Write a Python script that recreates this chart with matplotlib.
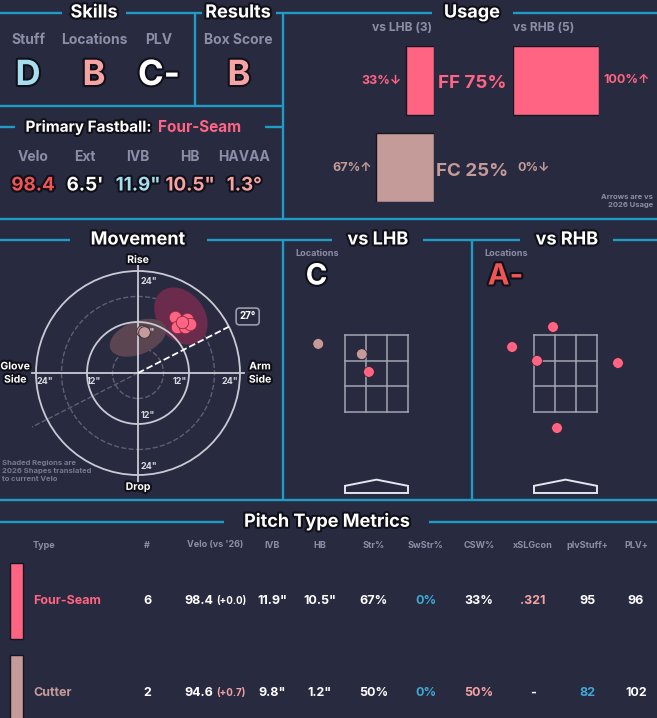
import numpy as np
import matplotlib
matplotlib.use("Agg")
import matplotlib.pyplot as plt
from matplotlib.patches import Circle, Ellipse, Rectangle, Polygon
import matplotlib.patheffects as pe

plt.rcParams['font.family'] = ['Inter', 'DejaVu Sans']

W, H = 657, 718
BG = '#282a40'
LINE = '#1f9cc6'
GRAY = '#8b8ea6'
WHITE = '#ffffff'
FF_COL = '#ff6482'
FC_COL = '#c49b98'
BLUE = '#3fa9d6'
LBLUE = '#a6def0'
PINK = '#f5a3a3'
RED = '#f05555'

# grades
skill_labels = ['Stuff', 'Locations', 'PLV']
skill_grades = ['D', 'B', 'C-']
skill_colors = [LBLUE, PINK, WHITE]
result_label = 'Box Score'
result_grade = 'B'

# primary fastball
fb_name = 'Four-Seam'
fb_labels = ['Velo', 'Ext', 'IVB', 'HB', 'HAVAA']
fb_values = ['98.4', "6.5'", '11.9"', '10.5"', '1.3°']
fb_colors = [RED, WHITE, LBLUE, PINK, PINK]

# usage
pitch_codes = ['FF', 'FC']
pitch_names = ['Four-Seam', 'Cutter']
pitch_colors = [FF_COL, FC_COL]
usage_total = [75, 25]
usage_lhb = [33, 67]
usage_rhb = [100, 0]
arrow_lhb = ['↓', '↑']
arrow_rhb = ['↑', '↓']
n_lhb, n_rhb = 3, 5

# movement (inches)
ff_hb = [8.7, 11.5, 9.2, 11.1, 12.2, 10.4]
ff_ivb = [13.2, 12.7, 10.8, 10.8, 11.5, 12.0]
fc_hb = [1.0, 1.4]
fc_ivb = [9.9, 9.7]
arm_angle = 27

# locations (feet)
lhb_x = [-1.31, -0.33, -0.17]
lhb_y = [3.13, 2.90, 2.50]
lhb_type = ['FC', 'FC', 'FF']
rhb_x = [-0.28, -1.20, -0.64, 1.18, -0.19]
rhb_y = [3.51, 3.06, 2.75, 2.70, 1.24]
rhb_type = ['FF', 'FF', 'FF', 'FF', 'FF']
loc_grades = ['C', 'A-']
loc_grade_colors = [WHITE, RED]

# table
col_names = ['Type', '#', "Velo (vs '26)", 'IVB', 'HB', 'Str%', 'SwStr%', 'CSW%', 'xSLGcon', 'plvStuff+', 'PLV+']
counts = ['6', '2']
velo = ['98.4', '94.6']
velo_diff = ['(+0.0)', '(+0.7)']
velo_diff_col = [WHITE, PINK]
ivb = ['11.9"', '9.8"']
hb = ['10.5"', '1.2"']
strike = ['67%', '50%']
swstr = ['0%', '0%']
swstr_col = [BLUE, BLUE]
csw = ['33%', '50%']
csw_col = [WHITE, PINK]
xslg = ['.321', '-']
xslg_col = [PINK, WHITE]
stuff = ['95', '82']
stuff_col = [WHITE, BLUE]
plv = ['96', '102']
plv_col = [WHITE, WHITE]

fig = plt.figure(figsize=(W / 100, H / 100), dpi=100, facecolor=BG)
ov = fig.add_axes([0, 0, 1, 1])
ov.set_xlim(0, W)
ov.set_ylim(H, 0)
ov.axis('off')

STROKE = [pe.withStroke(linewidth=3, foreground='#101018')]


def px_axes(x0, y0, x1, y1):
    a = fig.add_axes([x0 / W, 1 - y1 / H, (x1 - x0) / W, (y1 - y0) / H])
    a.patch.set_alpha(0)
    a.axis('off')
    return a


def hline(y, segs):
    for x0, x1 in segs:
        ov.plot([x0, x1], [y, y], color=LINE, lw=1.7, solid_capstyle='butt')


def vline(x, y0, y1):
    ov.plot([x, x], [y0, y1], color=LINE, lw=1.7, solid_capstyle='butt')


def title(txt, x, y, size=13):
    ov.text(x, y, txt, color=WHITE, fontsize=size, fontweight='bold',
            ha='center', va='center', path_effects=STROKE)


# frame lines
hline(13, [(0, 62), (126, 202), (276, 432), (513, 657)])
vline(195, 13, 106)
vline(283, 13, 219)
hline(106, [(0, 283)])
hline(127, [(0, 15), (265, 283)])
hline(219, [(0, 657)])
hline(240, [(0, 70), (207, 332), (423, 520), (613, 657)])
vline(283, 240, 500)
vline(472, 240, 500)
hline(500, [(0, 657)])
hline(522, [(0, 224), (429, 657)])

# skills / results
title('Skills', 94, 13)
title('Results', 238, 13)
for i, (lab, g, c) in enumerate(zip(skill_labels, skill_grades, skill_colors)):
    x = [28, 94, 159][i]
    ov.text(x, 40, lab, color=GRAY, fontsize=10, fontweight='bold', ha='center', va='center')
    ov.text(x, 76, g, color=c, fontsize=25, fontweight='bold', ha='center', va='center',
            path_effects=STROKE)
ov.text(238, 40, result_label, color=GRAY, fontsize=10, fontweight='bold', ha='center', va='center')
ov.text(239, 76, result_grade, color=PINK, fontsize=25, fontweight='bold', ha='center',
        va='center', path_effects=STROKE)

# primary fastball
ov.text(152, 127, 'Primary Fastball:', color=WHITE, fontsize=11, fontweight='bold',
        ha='right', va='center', path_effects=STROKE)
ov.text(158, 127, fb_name, color=FF_COL, fontsize=11, fontweight='bold', ha='left', va='center')
for x, lab, v, c in zip([33, 85, 138, 190, 244], fb_labels, fb_values, fb_colors):
    ov.text(x, 157, lab, color=GRAY, fontsize=10, fontweight='bold', ha='center', va='center')
    ov.text(x, 186, v, color=c, fontsize=13.5, fontweight='bold', ha='center', va='center',
            path_effects=STROKE)

# usage
title('Usage', 472, 13)
ov.text(432, 28, f'vs LHB ({n_lhb})', color=GRAY, fontsize=8.7, fontweight='bold', ha='right', va='center')
ov.text(513, 28, f'vs RHB ({n_rhb})', color=GRAY, fontsize=8.7, fontweight='bold', ha='left', va='center')

bar_px = 86  # pixels for 100%
ax_l = px_axes(434 - bar_px, 46, 434, 202)
ax_r = px_axes(513, 46, 513 + bar_px, 202)
rows = np.arange(len(pitch_codes))
for a, vals, arrows, side in [(ax_l, usage_lhb, arrow_lhb, 'l'), (ax_r, usage_rhb, arrow_rhb, 'r')]:
    a.barh(rows, vals, height=0.79, color=pitch_colors, edgecolor='#15151f',
           linewidth=[1 if v > 0 else 0 for v in vals])
    a.set_xlim(0, 100)
    a.set_ylim(1.395, -0.395)
    for r, v, ar in zip(rows, vals, arrows):
        off, ha = (-3, 'right') if side == 'l' else (3, 'left')
        a.annotate(f'{v}%{ar}', (v, r), xytext=(off, 0), textcoords='offset points',
                   ha=ha, va='center', color=pitch_colors[r], fontsize=9,
                   fontweight='bold', family=['Inter', 'DejaVu Sans'], annotation_clip=False)
ax_l.invert_xaxis()
for r, (code, u) in enumerate(zip(pitch_codes, usage_total)):
    ov.text(472, 84 + r * 87, f'{code} {u}%', color=pitch_colors[r], fontsize=13.5,
            fontweight='bold', ha='center', va='center')
ov.text(653, 201, 'Arrows are vs\n2026 Usage', color=GRAY, fontsize=5.5, fontweight='bold',
        ha='right', va='center', linespacing=1.3)

# movement
title('Movement', 138, 240)
scale = 4.25  # px per inch
half = 128 / scale
am = px_axes(138 - 128, 373 - 128, 138 + 128, 373 + 128)
am.set_xlim(-half, half)
am.set_ylim(-half, half)
am.set_aspect('equal')
am.add_patch(Ellipse((10.1, 13.4), 14.8, 11.0, angle=-52, color='#6a2b4c', lw=0, zorder=1))
am.add_patch(Ellipse((0.0, 8.3), 14.0, 7.8, angle=22, color='#5b4551', lw=0, zorder=1))
for rad, ls in [(6, '--'), (18, '--')]:
    am.add_patch(Circle((0, 0), rad, fill=False, ec='#5d6075', lw=1, ls=ls, zorder=0))
for rad in [12, 24]:
    am.add_patch(Circle((0, 0), rad, fill=False, ec='#c9cad4', lw=1.3, zorder=2))
am.plot([-25, 25], [0, 0], color='#c9cad4', lw=1.3, zorder=2)
am.plot([0, 0], [-26, 26], color='#c9cad4', lw=1.3, zorder=2)
for t, x, y in [('24"', 0.6, 21.6), ('12"', 0.6, 9.6), ('12"', 0.6, -9.9), ('24"', 0.6, -21.9)]:
    am.text(x, y, t, color='#d8d9e0', fontsize=6.5, fontweight='bold', ha='left', va='center', zorder=3)
for t, x in [('24"', -21.9), ('12"', -10.4), ('12"', 9.9), ('24"', 21.6)]:
    am.text(x, -1.9, t, color='#d8d9e0', fontsize=6.5, fontweight='bold', ha='center', va='center', zorder=3)
am.text(0, 26.6, 'Rise', color=WHITE, fontsize=7.5, fontweight='bold', ha='center', va='center',
        path_effects=STROKE)
am.text(0, -26.8, 'Drop', color=WHITE, fontsize=7.5, fontweight='bold', ha='center', va='center',
        path_effects=STROKE)
am.text(-28.9, 0, 'Glove\nSide', color=WHITE, fontsize=7.5, fontweight='bold', ha='center', va='center',
        path_effects=STROKE, linespacing=1.4)
am.text(28.7, 0, 'Arm\nSide', color=WHITE, fontsize=7.5, fontweight='bold', ha='center', va='center',
        path_effects=STROKE, linespacing=1.4)
th = np.radians(arm_angle)
am.plot([0, 24 * np.cos(th)], [0, 24 * np.sin(th)], color=WHITE, lw=1.3, ls='--', zorder=4)
am.plot([0, -28 * np.cos(th)], [0, -28 * np.sin(th)], color='#5d6075', lw=1, ls='--', zorder=0)
am.text(25.8, 13.3, f'{arm_angle}°', color=WHITE, fontsize=7, fontweight='bold', ha='center',
        va='center', zorder=5,
        bbox=dict(boxstyle='round,pad=0.35', fc=BG, ec='#9a9cab', lw=1.2))
am.scatter(fc_hb, fc_ivb, s=70, color=FC_COL, ec='#3a2b33', lw=0.6, zorder=6)
am.scatter(ff_hb, ff_ivb, s=80, color=FF_COL, ec='#8a2a45', lw=0.6, zorder=6)
ov.text(2, 471, 'Shaded Regions are\n2026 Shapes translated\nto current Velo', color='#767a90',
        fontsize=5.5, fontweight='bold', ha='left', va='center', linespacing=1.4)

# locations
title('vs LHB', 378, 240)
title('vs RHB', 567, 240)
ft = 44.5  # px per foot
sz_bot, sz_top, half_plate = 1.6, 3.33, 0.708
pt_col = {'FF': FF_COL, 'FC': FC_COL}
for i, (xs, ys, ts, cx, x0, x1) in enumerate([(lhb_x, lhb_y, lhb_type, 376.5, 283, 472),
                                                (rhb_x, rhb_y, rhb_type, 565.5, 472, 657)]):
    al = px_axes(x0, 290, x1, 500)
    al.set_xlim((x0 - cx) / ft, (x1 - cx) / ft)
    al.set_ylim(sz_bot - (500 - 412) / ft, sz_bot + (412 - 290) / ft)
    xs_g = np.linspace(-half_plate, half_plate, 4)
    ys_g = np.linspace(sz_bot, sz_top, 4)
    for xv in xs_g:
        al.plot([xv, xv], [sz_bot, sz_top], color='#a3a4b2', lw=1.1, zorder=1)
    for yv in ys_g:
        al.plot([-half_plate, half_plate], [yv, yv], color='#a3a4b2', lw=1.1, zorder=1)
    al.add_patch(Polygon([(-half_plate, -0.22), (half_plate, -0.22), (half_plate, -0.06),
                          (0, 0.08), (-half_plate, -0.06)], closed=True, fc=BG, ec='#e6e6ee', lw=1.4))
    al.scatter(xs, ys, s=60, c=[pt_col[t] for t in ts], ec='#2a1f2a', lw=0.5, zorder=3)
    lx = x0 + 12
    ov.text(lx, 253, 'Locations', color=GRAY, fontsize=6.5, fontweight='bold', ha='left', va='center')
    ov.text(lx + 21.5, 277, loc_grades[i], color=loc_grade_colors[i], fontsize=21,
            fontweight='bold', ha='center', va='center', path_effects=STROKE)

# pitch type metrics
title('Pitch Type Metrics', 327, 522)
col_x = [33, 147, 215, 272, 320, 374, 426, 479, 533, 587, 636]
for j, (c, x) in enumerate(zip(col_names, col_x)):
    ov.text(x, 545, c, color=GRAY, fontsize=6.5, fontweight='bold',
            ha='left' if j == 0 else 'center', va='center')
row_y = [601, 693]
for r in range(len(pitch_names)):
    y = row_y[r]
    ov.add_patch(Rectangle((10, y - 38), 13, 76, color=pitch_colors[r], ec='#15151f', lw=1))
    ov.text(33, y, pitch_names[r], color=pitch_colors[r], fontsize=9, fontweight='bold',
            ha='left', va='center')
    ov.text(147, y, counts[r], color=WHITE, fontsize=9, fontweight='bold', ha='center', va='center')
    ov.text(213, y, velo[r], color=WHITE, fontsize=9, fontweight='bold', ha='right', va='center')
    ov.text(216, y, velo_diff[r], color=velo_diff_col[r], fontsize=7, fontweight='bold',
            ha='left', va='center')
    cells = [(ivb[r], WHITE), (hb[r], WHITE), (strike[r], WHITE), (swstr[r], swstr_col[r]),
             (csw[r], csw_col[r]), (xslg[r], xslg_col[r]), (stuff[r], stuff_col[r]), (plv[r], plv_col[r])]
    for x, (t, c) in zip(col_x[3:], cells):
        ov.text(x, y, t, color=c, fontsize=9, fontweight='bold', ha='center', va='center')

fig.savefig('out.png', dpi=100, facecolor=BG)
